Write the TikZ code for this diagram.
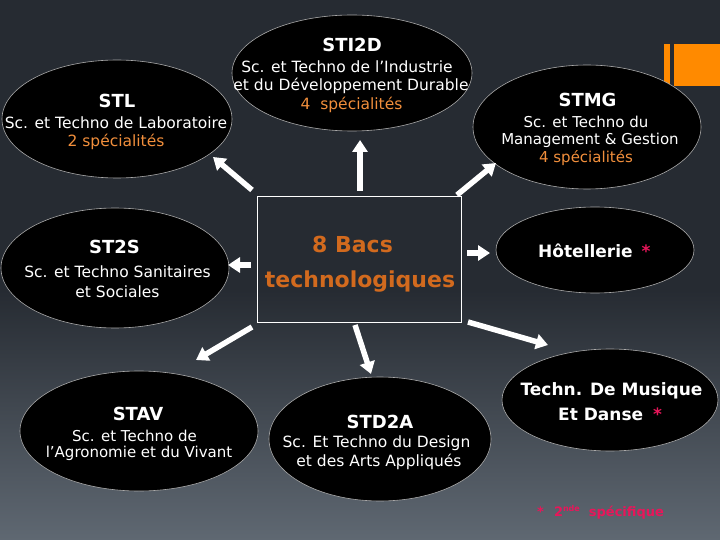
\documentclass[tikz,border=0pt]{standalone}
\usepackage{fontspec}
\setmainfont{DejaVu Sans}
\usetikzlibrary{arrows.meta,shapes.geometric}
\definecolor{bgtop}{RGB}{38,43,50}
\definecolor{bgbot}{RGB}{95,104,114}
\definecolor{orangebar}{RGB}{255,138,0}
\definecolor{speccol}{RGB}{242,143,60}
\definecolor{bacscol}{RGB}{210,106,30}
\definecolor{pinkstar}{RGB}{232,22,90}
\definecolor{rimgrey}{RGB}{170,170,170}
\begin{document}
\begin{tikzpicture}[x=1pt,y=-1pt,
  bac/.style={ellipse, fill=black, draw=rimgrey, line width=0.6pt, inner sep=0pt},
  ttl/.style={anchor=base, text=white, font=\bfseries\fontsize{18}{22}\selectfont, inner sep=0pt},
  bodytxt/.style={anchor=base, text=white, font=\fontsize{15.5}{19}\selectfont, inner sep=0pt},
  smalltxt/.style={anchor=base, text=white, font=\fontsize{15}{19}\selectfont, inner sep=0pt},
  specl/.style={bodytxt, text=speccol},
  boldtxt/.style={text=white, font=\bfseries\fontsize{17}{21}\selectfont, inner sep=0pt},
  bacstxt/.style={anchor=base, text=bacscol, font=\bfseries\fontsize{22}{26}\selectfont, inner sep=0pt},
  arr/.style={draw=white, line width=5.5pt, -{Triangle[width=15pt,length=12pt]}},
]
\useasboundingbox (0,0) rectangle (720,540);
% background
\fill[bgtop] (0,0) rectangle (720,291);
\shade[top color=bgtop, bottom color=bgbot] (0,290) rectangle (720,540);
% orange bars
\fill[orangebar] (664,44) rectangle (670,86);
\fill[orangebar] (674,44) rectangle (720,86);

% ellipses
\node[bac, minimum width=230pt, minimum height=118pt] (stl) at (117,119) {};
\node[bac, minimum width=240pt, minimum height=116pt] (sti2d) at (352,73) {};
\node[bac, minimum width=228pt, minimum height=124pt] (stmg) at (587,127) {};
\node[bac, minimum width=228pt, minimum height=120pt] (st2s) at (115,268) {};
\node[bac, minimum width=198pt, minimum height=86pt] (hotel) at (595,250) {};
\node[bac, minimum width=238pt, minimum height=120pt] (stav) at (139,431) {};
\node[bac, minimum width=222pt, minimum height=124pt] (std2a) at (380,439) {};
\node[bac, minimum width=216pt, minimum height=102pt] (music) at (610,400) {};

% central box
\node[draw=white, line width=1pt, minimum width=204pt, minimum height=125pt, inner sep=0pt] (box) at (359,259.5) {};
\node[bacstxt] (box-1) at (352.5,252) {8 Bacs};
\node[bacstxt] (box-2) at (360,287) {technologiques};

% arrows
\coordinate (t1) at (252,190); \coordinate (h1) at (213,157);
\coordinate (t2) at (360,191); \coordinate (h2) at (360,140);
\coordinate (t3) at (457,195); \coordinate (h3) at (496,163);
\coordinate (t4) at (251,265); \coordinate (h4) at (228,265);
\coordinate (t5) at (467,253); \coordinate (h5) at (490,253);
\coordinate (t6) at (252,327); \coordinate (h6) at (196,360);
\coordinate (t7) at (355,325); \coordinate (h7) at (371,374);
\coordinate (t8) at (468,322); \coordinate (h8) at (548,345);
\draw[arr] (t1) -- (h1);
\draw[arr] (t2) -- (h2);
\draw[arr] (t3) -- (h3);
\draw[arr] (t4) -- (h4);
\draw[arr] (t5) -- (h5);
\draw[arr] (t6) -- (h6);
\draw[arr] (t7) -- (h7);
\draw[arr] (t8) -- (h8);

% STL
\node[ttl] (stl-t) at (117,108) {STL};
\node[bodytxt] (stl-1) at (116,128.5) {Sc. et Techno de Laboratoire};
\node[specl] (stl-2) at (116,147) {2 spécialités};
% STI2D
\node[ttl] (sti2d-t) at (352,52) {STI2D};
\node[bodytxt] (sti2d-1) at (347,73) {Sc. et Techno de l'Industrie};
\node[bodytxt] (sti2d-2) at (351,91) {et du Développement Durable};
\node[specl] (sti2d-3) at (351.5,110) {4\ \ spécialités};
% STMG
\node[ttl] (stmg-t) at (587.5,107) {STMG};
\node[smalltxt] (stmg-1) at (586,128) {Sc. et Techno du};
\node[smalltxt] (stmg-2) at (590,145) {Management \& Gestion};
\node[smalltxt, text=speccol] (stmg-3) at (586,163) {4 spécialités};
% ST2S
\node[ttl] (st2s-t) at (114.5,253) {ST2S};
\node[bodytxt] (st2s-1) at (117.5,277.5) {Sc. et Techno Sanitaires};
\node[bodytxt] (st2s-2) at (117.5,297) {et Sociales};
% Hotellerie
\node[boldtxt, anchor=base west] (hotel-t) at (538,257) {Hôtellerie\hspace{9pt}\textcolor{pinkstar}{*}};
% STAV
\node[ttl] (stav-t) at (138,420) {STAV};
\node[smalltxt] (stav-1) at (134.5,441) {Sc. et Techno de};
\node[smalltxt] (stav-2) at (139,457.5) {l'Agronomie et du Vivant};
% STD2A
\node[ttl] (std2a-t) at (380,428) {STD2A};
\node[bodytxt] (std2a-1) at (376.5,447.5) {Sc. Et Techno du Design};
\node[bodytxt] (std2a-2) at (379,466.5) {et des Arts Appliqués};
% Music
\node[boldtxt, anchor=base] (music-1) at (611.5,395) {Techn. De Musique};
\node[boldtxt, anchor=base west] (music-2) at (558,420) {Et Danse\hspace{10pt}\textcolor{pinkstar}{*}};
% footnote
\node[anchor=base west, inner sep=0pt, text=pinkstar, font=\bfseries\fontsize{13}{16}\selectfont] (note) at (537,516)
  {*\hspace{10pt}2\raisebox{5pt}{\fontsize{8}{9}\selectfont nde}\hspace{9pt}spécifique};
\end{tikzpicture}
\end{document}
